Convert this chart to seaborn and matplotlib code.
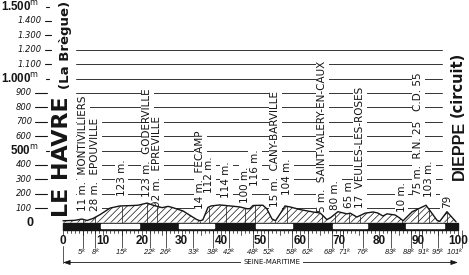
import matplotlib
matplotlib.use("Agg")
import matplotlib.pyplot as plt
from matplotlib.patches import Rectangle
import numpy as np
import pandas as pd
import seaborn as sns

# ---------------- data ----------------
profile_km = [0, 3.0, 4.8, 6.1, 7.6, 9.4, 11.9, 14.4, 17.7, 19.0, 21.3, 22.8, 25.1,
              26.6, 27.6, 30.4, 32.7, 33.9, 34.7, 35.4, 36.7, 37.5, 39.7, 42.3, 44.8,
              46.6, 47.3, 48.1, 50.6, 51.6, 52.9, 53.8, 55.2, 56.2, 57.5, 60.0, 63.3,
              65.1, 66.1, 66.8, 67.8, 69.6, 71.9, 72.7, 74.4, 76.5, 78.5, 79.7, 81.0,
              82.0, 84.1, 85.3, 86.1, 88.4, 89.6, 91.9, 94.7, 95.4, 97.2, 98.5, 99.5]
profile_alt = [12, 15, 24, 14, 28, 55, 100, 115, 118, 120, 135, 120, 103,
               112, 105, 80, 40, 20, 12, 18, 105, 115, 122, 115, 108,
               95, 96, 118, 120, 95, 25, 12, 70, 115, 108, 90, 73,
               66, 40, 20, 35, 75, 60, 65, 38, 65, 73, 66, 45,
               60, 52, 30, 12, 75, 90, 120, 15, 8, 75, 35, 5]

km_ticks = [0, 10, 20, 30, 40, 50, 60, 70, 80, 90, 100]
bar_edges = [0, 9.4, 19.5, 29.1, 38.5, 48.6, 58.2, 68.1, 77.2, 86.6, 96.7, 100]
dist_km = [5, 8, 15, 22, 26, 33, 38, 42, 48, 52, 58, 62, 68, 71, 76, 83, 88, 91, 95, 101]

place_km = [5.1, 8.1, 14.9, 21.3, 23.8, 34.7, 37.0, 41.3, 46.1, 48.6, 53.7, 56.7,
            65.6, 68.9, 72.4, 75.2, 85.8, 89.9, 92.7, 97.2]
place_alt = ["11 m.", "28 m.", "123 m.", "123 m.", "92 m.", "14 m.", "112 m.", "114 m.",
             "100 m.", "116 m.", "15 m.", "104 m.", "5 m.", "80 m.", "65 m", "17",
             "10 m.", "75 m.", "103 m.", "79"]
place_name = ["MONTIVILLIERS", "EPOUVILLE", "", "GODERVILLE", "EPREVILLE", "FECAMP",
              "", "", "", "", "CANY-BARVILLE", "", "SAINT-VALERY-EN-CAUX", "", "",
              "VEULES-LES-ROSES", "", "R.N. 25   C.D. 55", "", ""]

alt_levels = list(range(0, 1600, 100))
start_name, start_sub = "LE HAVRE", "(La Brègue)"
end_name, end_sub = "DIEPPE", "(circuit)"
region = "SEINE-MARITIME"

# ---------------- layout helpers (pixel -> data) ----------------
W, H = 469, 275
X0PX, PXKM = 63.0, 3.95
Y0PX, PXM = 222.5, 0.144


def kx(px):
    return (px - X0PX) / PXKM


def my(py):
    return (Y0PX - py) / PXM


# label bottoms (pixels from top)
place_bottom_px = [211, 211, 196, 197, 207, 209, 193, 198, 203, 186, 207, 195,
                   212, 210, 208, 208, 212, 195, 197, 208]

sns.set_theme(style="white")
plt.rcParams['font.family'] = ['DejaVu Sans']
plt.rcParams['hatch.linewidth'] = 0.5

fig = plt.figure(figsize=(W / 100, H / 100), dpi=100)
fig.patch.set_facecolor("white")
ax = fig.add_axes([0, 0, 1, 1])
ax.set_xlim(kx(0), kx(W))
ax.set_ylim(my(H), my(0))
ax.axis("off")

INK = "#151515"

# ---------------- horizontal guide lines ----------------
for lev in alt_levels:
    if 100 <= lev <= 1200:
        ax.plot([kx(76), kx(442)], [lev, lev], color="#333333", lw=0.7, zorder=1)

# ---------------- y labels ----------------
for lev in alt_levels:
    if lev == 0:
        ax.text(kx(30), lev, "0", fontsize=9, fontweight="bold",
                family=["Liberation Sans", "DejaVu Sans"], ha="center", va="center",
                color=INK)
        continue
    s = f"{lev // 1000}.{lev % 1000:03d}" if lev >= 1000 else f"{lev}"
    if lev % 500 == 0:
        ax.text(kx(39), lev, s + r"$^{\mathrm{m}}$", fontsize=8.3, fontweight="bold",
                family=["Liberation Sans", "DejaVu Sans"], ha="right", va="center",
                color=INK)
        ax.plot([kx(45.5), kx(48.5)], [lev, lev], color=INK, lw=0.8)
    else:
        if lev >= 1000:
            ax.text(kx(42), lev, s, fontsize=6, style="italic", ha="right",
                    va="center", color=INK)
            ax.plot([kx(44.5), kx(51)], [lev, lev], color=INK, lw=0.8)
        else:
            ax.text(kx(32), lev, s, fontsize=6, style="italic", ha="right",
                    va="center", color=INK)
            ax.plot([kx(35), kx(47)], [lev, lev], color=INK, lw=0.8)

# ---------------- profile ----------------
prof = pd.DataFrame({"km": profile_km, "alt": profile_alt})
ax.fill_between(prof["km"], 0, prof["alt"], facecolor="white", edgecolor=INK,
                hatch="/////", linewidth=0, zorder=3)
sns.lineplot(data=prof, x="km", y="alt", color=INK, lw=1.0, ax=ax, zorder=4,
             legend=False, sort=False)
ax.vlines(place_km, 0, np.interp(place_km, profile_km, profile_alt),
          color=INK, lw=0.5, zorder=4)

# ---------------- place labels ----------------
for k, a, n, b in zip(place_km, place_alt, place_name, place_bottom_px):
    txt = a + ("  " + n if n else "")
    ax.text(k, my(b), txt, rotation=90, rotation_mode="anchor", ha="left",
            va="center", fontsize=7.5, color=INK, zorder=2,
            bbox=dict(boxstyle="square,pad=0.15", fc="white", ec="none"))

# ---------------- start / end names ----------------
ax.text(kx(68.5), my(217), start_name, rotation=90, rotation_mode="anchor",
        ha="left", va="baseline", fontsize=16, fontweight="bold", color=INK, zorder=6)
ax.text(kx(68.5), my(89), start_sub, rotation=90, rotation_mode="anchor",
        ha="left", va="baseline", fontsize=9.5, fontweight="bold", color=INK, zorder=6)
ax.text(kx(463.5), my(180), end_name, rotation=90, rotation_mode="anchor",
        ha="left", va="baseline", fontsize=11.5, fontweight="bold",
        family=["Liberation Sans Narrow", "Liberation Sans", "DejaVu Sans"],
        color=INK, zorder=6)
ax.text(kx(462), my(117), end_sub, rotation=90, rotation_mode="anchor",
        ha="left", va="baseline", fontsize=10.5, fontweight="bold", color=INK, zorder=6)

# ---------------- kilometre bar ----------------
bar_top, bar_bot = my(222.5), my(229.5)
ax.add_patch(Rectangle((bar_edges[0], bar_bot), bar_edges[-1] - bar_edges[0],
                       bar_top - bar_bot, color=INK, zorder=5))
for i in range(1, len(bar_edges) - 1, 2):
    ax.add_patch(Rectangle((bar_edges[i] + 0.15, my(227.8)),
                           bar_edges[i + 1] - bar_edges[i] - 0.3,
                           my(224.4) - my(227.8), color="white", zorder=6))
for k in range(0, 101):
    ln = 235 if k % 5 == 0 else 233
    ax.plot([k, k], [bar_bot, my(ln)], color=INK, lw=0.5, zorder=5)

for t in km_ticks:
    ax.text(t, my(241.5), str(t), fontsize=8.5, fontweight="bold",
            family=["Liberation Sans", "DejaVu Sans"], ha="center", va="center",
            color=INK)

ax.vlines(dist_km, my(247.5), bar_bot, color=INK, lw=0.5, zorder=4)
# small spreading of crowded distance labels so that they do not collide
label_pos = [float(d) for d in dist_km]
for i in range(len(label_pos) - 1):
    if label_pos[i + 1] - label_pos[i] < 3.6:
        label_pos[i] -= 0.35
        label_pos[i + 1] += 0.35
label_pos[-1] = min(label_pos[-1], kx(455))
for d, p in zip(dist_km, label_pos):
    ax.text(p, my(252.5), f"{d}" + r"$^{k}$", fontsize=5.4,
            style="italic", family=["Liberation Sans", "DejaVu Sans"],
            ha="center", va="center", color=INK)

# ---------------- region arrow ----------------
ax.plot([0, 0], [my(246), my(262.5)], color=INK, lw=0.5)
ax.annotate("", xy=(kx(458), my(262.5)), xytext=(0, my(262.5)),
            arrowprops=dict(arrowstyle="<|-|>,head_length=0.35,head_width=0.12",
                            color=INK, lw=0.6, shrinkA=0, shrinkB=0))
ax.text(kx(272), my(262.5), region, fontsize=5, ha="center", va="center",
        color=INK, bbox=dict(boxstyle="square,pad=0.3", fc="white", ec="none"),
        zorder=5)

fig.savefig("out.png", dpi=100, facecolor="white")
